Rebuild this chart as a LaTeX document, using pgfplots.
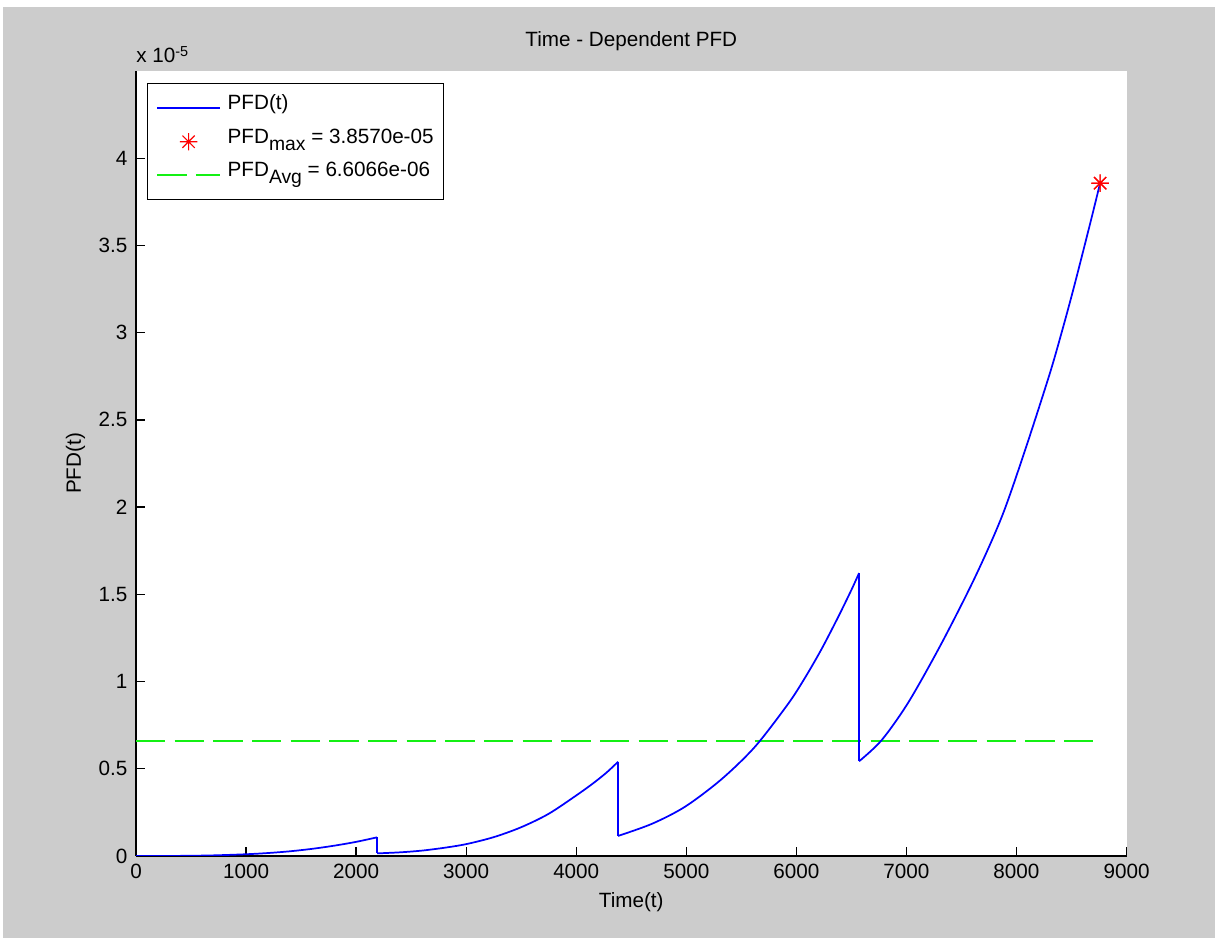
\documentclass[border=0pt]{standalone}
\usepackage{fontspec}
\setmainfont{Liberation Sans}
\usepackage{pgfplots}
\pgfplotsset{compat=1.18}
\definecolor{figgray}{RGB}{204,204,204}
\definecolor{mgreen}{RGB}{20,240,20}
\definecolor{mblue}{RGB}{0,0,255}
\definecolor{mred}{RGB}{255,0,0}
\newcommand\fs{\fontsize{15.5}{18.6}\selectfont}
\newcommand\sub[1]{\raisebox{-5.2pt}{\fontsize{14.5}{16}\selectfont #1}}
\pgfdeclareplotmark{mstar}{%
 \pgfpathmoveto{\pgfqpoint{-\pgfplotmarksize}{0pt}}\pgfpathlineto{\pgfqpoint{\pgfplotmarksize}{0pt}}%
 \pgfpathmoveto{\pgfqpoint{0pt}{-\pgfplotmarksize}}\pgfpathlineto{\pgfqpoint{0pt}{\pgfplotmarksize}}%
 \pgfpathmoveto{\pgfqpoint{-0.7071\pgfplotmarksize}{-0.7071\pgfplotmarksize}}\pgfpathlineto{\pgfqpoint{0.7071\pgfplotmarksize}{0.7071\pgfplotmarksize}}%
 \pgfpathmoveto{\pgfqpoint{-0.7071\pgfplotmarksize}{0.7071\pgfplotmarksize}}\pgfpathlineto{\pgfqpoint{0.7071\pgfplotmarksize}{-0.7071\pgfplotmarksize}}%
 \pgfusepathqstroke}
\begin{document}
\begin{tikzpicture}[x=1pt,y=1pt]
\useasboundingbox (0,0) rectangle (911.25,703.5);
\fill[white] (0,0) rectangle (911.25,703.5);
\fill[figgray] (2.25,0) rectangle (911.25,698.25);
\begin{axis}[
 name=ax,
 at={(102pt,61.5pt)}, anchor=south west,
 scale only axis, width=742.9pt, height=588.75pt,
 xmin=0, xmax=9000, ymin=0, ymax=4.5,
 axis background/.style={fill=white},
 axis x line*=bottom, axis y line*=left,
 axis line style={-, line width=1pt, black},
 tick align=inside, major tick length=7pt,
 tick style={line width=1pt, black},
 xtick={0,1000,2000,3000,4000,5000,6000,7000,8000,9000},
 xticklabels={0,1000,2000,3000,4000,5000,6000,7000,8000,9000},
 ytick={0,0.5,1,1.5,2,2.5,3,3.5,4},
 yticklabels={0,0.5,1,1.5,2,2.5,3,3.5,4},
 scaled x ticks=false, scaled y ticks=false,
 tick label style={font=\fs, text=black},
 xticklabel style={yshift=-2.8pt},
 yticklabel style={xshift=-3pt},
 xlabel={Time(t)},
 xlabel style={font=\fs, at={([yshift=-38.6pt]axis description cs:0.5,0)}, anchor=base},
 ylabel={PFD(t)},
 ylabel style={font=\fs, at={([xshift=-41.25pt]axis description cs:0,0.5)}, anchor=base, rotate=0},
 title={Time - Dependent PFD},
 title style={font=\fs, at={([yshift=12pt]axis description cs:0.5,1)}, anchor=base},
 legend style={font=\fs, at={(0,1)}, anchor=north west, xshift=8.25pt, yshift=-9pt,
   draw=black, line width=0.8pt, fill=white, inner xsep=6.5pt, inner ysep=7.3pt,
   row sep=2.6pt, column sep=4pt,
   nodes={inner sep=1pt, text height=11.5pt, text depth=9pt}},
 legend cell align=left,
 legend image code/.code={\draw[mark repeat=2,mark phase=2,#1] plot coordinates {(0pt,0pt) (23.5pt,0pt) (47pt,0pt)};},
]
% segment 1
\addplot[mblue, line width=1.3pt, smooth, tension=0.5] coordinates {
 (0,0) (400,0.0007) (700,0.0035) (1000,0.010) (1200,0.017) (1400,0.027)
 (1600,0.041) (1800,0.059) (2000,0.081) (2190,0.107)
};
\addlegendentry{PFD(t)}
\addplot[only marks, mred, mark=mstar, mark size=6.5pt, line width=0.9pt] coordinates {(8760,3.857)};
\addlegendentry{PFD\sub{max} = 3.8570e-05}
\addplot[mgreen, line width=1.6pt, dash pattern=on 22pt off 7pt] coordinates {(0,0.66066) (8760,0.66066)};
\addlegendentry{PFD\sub{Avg} = 6.6066e-06}
% drops (test instants)
\addplot[mblue, line width=1.3pt, forget plot] coordinates {(2190,0.107) (2190,0.015)};
\addplot[mblue, line width=1.3pt, forget plot] coordinates {(4380,0.540) (4380,0.115)};
\addplot[mblue, line width=1.3pt, forget plot] coordinates {(6570,1.622) (6570,0.543)};
% segment 2
\addplot[mblue, line width=1.3pt, smooth, tension=0.5, forget plot] coordinates {
 (2190,0.015) (2400,0.021) (2600,0.031) (2800,0.047) (3000,0.068) (3250,0.108)
 (3500,0.165) (3750,0.242) (4000,0.347) (4150,0.415) (4275,0.478) (4380,0.540)
};
% segment 3
\addplot[mblue, line width=1.3pt, smooth, tension=0.5, forget plot] coordinates {
 (4380,0.115) (4690,0.185) (4990,0.283) (5320,0.440) (5625,0.627) (5925,0.872)
 (6077,1.020) (6228,1.185) (6380,1.370) (6500,1.525) (6570,1.622)
};
% segment 4
\addplot[mblue, line width=1.3pt, smooth, tension=0.5, forget plot] coordinates {
 (6570,0.543) (6775,0.664) (7020,0.883) (7320,1.220) (7625,1.600) (7870,1.950)
 (8080,2.330) (8300,2.760) (8410,3.000) (8505,3.220) (8595,3.440) (8685,3.665)
 (8760,3.857)
};
% redraw marker on top
\addplot[only marks, mred, mark=mstar, mark size=6.5pt, line width=0.9pt, forget plot] coordinates {(8760,3.857)};
\end{axis}
\node[anchor=base west, font=\fs, inner sep=0pt] at ([yshift=6pt]ax.north west) {x 10\textsuperscript{-5}};
\end{tikzpicture}
\end{document}
